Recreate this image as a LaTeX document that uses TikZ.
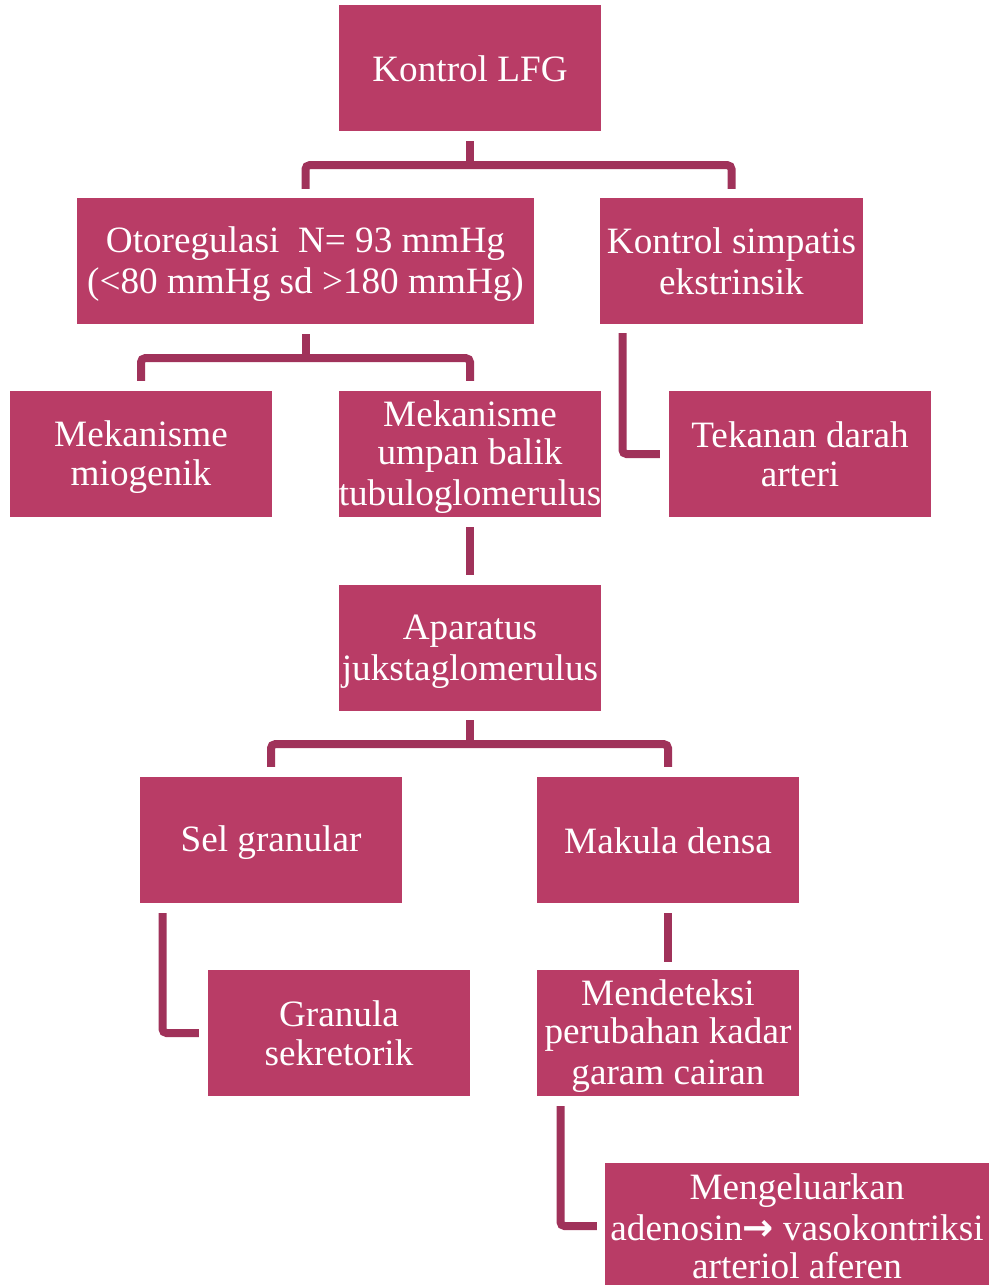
\documentclass[tikz,border=0pt]{standalone}
\usepackage{fontspec}
\setmainfont{Liberation Serif}
\newfontfamily\arrowfont{DejaVu Sans}
\definecolor{boxc}{HTML}{B93C66}
\definecolor{connc}{HTML}{A0325A}
% fixed line metrics so every box centres its lines the same way
\newcommand\ls{\rule[-6pt]{0pt}{38pt}}
\begin{document}
\begin{tikzpicture}[x=1pt,y=-1pt,
  box/.style={fill=boxc, text=white, draw=none, inner sep=0pt,
    minimum width=262pt, minimum height=126pt, align=center,
    font=\fontsize{37.2}{38.5}\selectfont},
  conn/.style={draw=connc, line width=8pt, rounded corners=4pt}]
\useasboundingbox (0,0) rectangle (990,1285);
\clip (0,0) rectangle (990,1285);

% boxes
\node[box] (lfg)  at (470,68)   {\ls Kontrol LFG};
\node[box, minimum width=457pt] (oto) at (305.5,261) {\ls Otoregulasi\ \ N= 93 mmHg\\\ls(<80 mmHg sd >180 mmHg)};
\node[box, minimum width=263pt] (simp) at (731.5,261) {\ls Kontrol simpatis\\\ls ekstrinsik};
\node[box] (mio)  at (141,454)  {\ls Mekanisme\\\ls miogenik};
\node[box] (ump)  at (470,454)  {\ls Mekanisme\\\ls umpan balik\\\ls tubuloglomerulus};
\node[box] (tek)  at (800,454)  {\ls Tekanan darah\\\ls arteri};
\node[box] (apa)  at (470,648)  {\ls Aparatus\\\ls jukstaglomerulus};
\node[box] (sel)  at (271,840)  {\ls Sel granular};
\node[box] (mak)  at (668,840)  {\ls Makula densa};
\node[box] (gra)  at (339,1033) {\ls Granula\\\ls sekretorik};
\node[box] (men)  at (668,1033) {\ls Mendeteksi\\\ls perubahan kadar\\\ls garam cairan};
\node[box, minimum width=384pt] (kel) at (797,1226) {\ls Mengeluarkan\\\ls adenosin{\arrowfont\bfseries →} vasokontriksi\\\ls arteriol aferen};

% tree from Kontrol LFG
\draw[conn] ([yshift=-10pt]lfg.south) -- ([yshift=-34pt]lfg.south);
\draw[conn] ([yshift=9pt]oto.north) |- ([yshift=-34pt]lfg.south) -| ([yshift=9pt]simp.north);

% tree from Otoregulasi
\draw[conn] ([yshift=-10pt]oto.south) -- ([yshift=-34pt]oto.south);
\draw[conn] ([yshift=10pt]mio.north) |- ([yshift=-34pt]oto.south) -| ([yshift=10pt]ump.north);

% Kontrol simpatis to Tekanan darah
\draw[conn] ([xshift=-109pt,yshift=-9pt]simp.south) |- ([xshift=-9pt]tek.west);

% umpan balik to Aparatus
\draw[conn] ([yshift=-10pt]ump.south) -- ([yshift=10pt]apa.north);

% tree from Aparatus
\draw[conn] ([yshift=-9pt]apa.south) -- ([yshift=-33pt]apa.south);
\draw[conn] ([yshift=10pt]sel.north) |- ([yshift=-33pt]apa.south) -| ([yshift=10pt]mak.north);

% Sel granular to Granula sekretorik
\draw[conn] ([xshift=-108.5pt,yshift=-10pt]sel.south) |- ([xshift=-9pt]gra.west);

% Makula densa to Mendeteksi
\draw[conn] ([yshift=-10pt]mak.south) -- ([yshift=8pt]men.north);

% Mendeteksi to Mengeluarkan
\draw[conn] ([xshift=-107.5pt,yshift=-10pt]men.south) |- ([xshift=-8pt]kel.west);
\end{tikzpicture}
\end{document}
